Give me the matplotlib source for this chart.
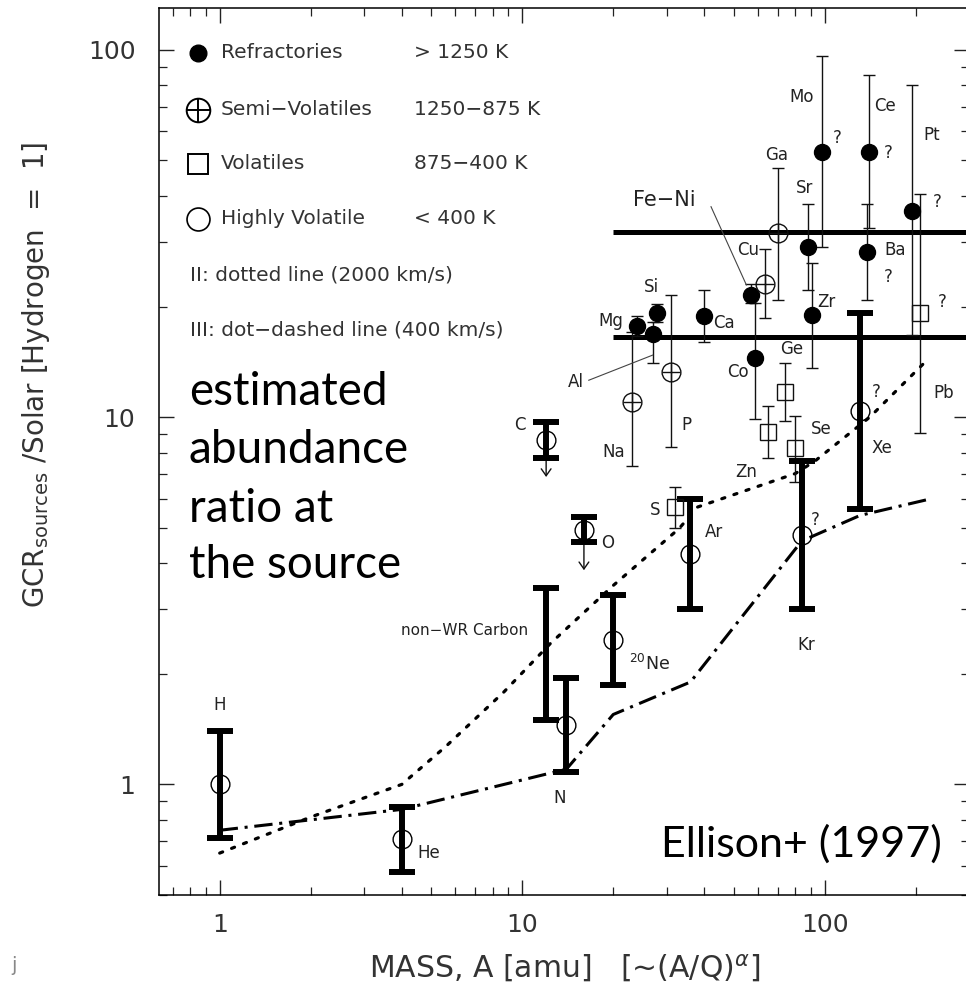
import numpy as np
import matplotlib.pyplot as plt

# ======================
# DATA
# ======================
# GCR source values with thick error bars (open circles = highly volatile)
gcr_names = ["H", "He", "C", "N", "O", "Ne", "Ar", "Kr", "Xe"]
gcr_mass = [1, 4, 12, 14, 16, 20, 36, 84, 131]
gcr_val = [1.0, 0.708, 8.65, 1.45, 4.92, 2.47, 4.25, 4.77, 10.4]
gcr_lo = [0.714, 0.579, 7.73, 1.08, 4.57, 1.86, 3.01, 3.01, 5.62]
gcr_hi = [1.40, 0.867, 9.72, 1.95, 5.35, 3.27, 6.0, 7.6, 19.2]

# non-WR carbon (bar only)
nowr_mass = [12]
nowr_lo = [1.50]
nowr_hi = [3.42]

# upper limits (arrows below C and O)
ul_mass = [12, 16]
ul_from = [7.73, 4.57]
ul_tip = [6.87, 3.83]

# refractories (filled circles)
ref_names = ["Mg", "Al", "Si", "Ca", "Fe-Ni", "Co", "Sr", "Zr", "Mo", "Ba", "Ce", "Pt"]
ref_mass = [24, 27, 28, 40, 57, 59, 88, 91, 98, 138, 140, 195]
ref_val = [17.7, 16.8, 19.2, 18.8, 21.5, 14.45, 29.1, 19.0, 52.8, 28.2, 52.8, 36.5]
ref_lo = [16.6, 14.0, 18.2, 16.0, 20.4, 9.9, 22.2, 13.6, 29.1, 20.8, 32.7, 16.7]
ref_hi = [18.9, 18.2, 20.3, 22.2, 23.1, 20.5, 38.1, 26.3, 96.3, 38.1, 85.5, 80.3]

# semi-volatiles (circle with cross)
semi_names = ["Na", "P", "Cu", "Ga"]
semi_mass = [23, 31, 63.5, 70]
semi_val = [11.0, 13.3, 23.0, 31.7]
semi_lo = [7.35, 8.27, 18.6, 20.8]
semi_hi = [17.0, 21.5, 28.6, 47.6]

# volatiles (open squares)
vol_names = ["S", "Zn", "Ge", "Se", "Pb"]
vol_mass = [32, 65, 74, 80, 207]
vol_val = [5.69, 9.12, 11.7, 8.22, 19.2]
vol_lo = [5.0, 7.72, 9.77, 6.66, 9.03]
vol_hi = [6.46, 10.7, 14.0, 10.1, 40.5]

# horizontal reference levels
hline_y = [32.0, 16.5]
hline_from = 20

# model II (dotted, 2000 km/s)
m2_mass = [1, 2, 4, 5.6, 8.7, 12.4, 20, 33, 38, 80, 93, 141, 220]
m2_val = [0.65, 0.815, 1.0, 1.27, 1.785, 2.42, 3.48, 4.97, 5.69, 7.02, 7.6, 10.0, 14.4]

# model III (dot-dashed, 400 km/s)
m3_mass = [1, 4, 14, 20, 36, 84, 131, 226]
m3_val = [0.75, 0.855, 1.1, 1.55, 1.9, 4.6, 5.4, 6.0]

# element labels: text, x, y
labels = [
    ("H", 1.0, 1.64), ("He", 4.9, 0.65), ("N", 13.3, 0.92), ("C", 9.8, 9.5),
    ("O", 19.1, 4.54), ("Ar", 43.0, 4.87), ("Kr", 86.6, 2.40), ("Xe", 155, 8.25),
    ("?", 147.7, 11.7), ("?", 93.2, 5.24), ("S", 27.5, 5.58), ("Zn", 55.1, 7.1),
    ("Se", 97.6, 9.26), ("Ge", 77.6, 15.3), ("Co", 51.7, 13.3), ("P", 34.8, 9.5),
    ("Na", 20.0, 8.04), ("Al", 15.0, 12.5), ("Mg", 19.7, 18.3), ("Si", 26.85, 22.6),
    ("Ca", 46.6, 18.0), ("Cu", 56.0, 28.5), ("Ga", 69.2, 51.8), ("Sr", 85.9, 42.0),
    ("Zr", 101.4, 20.6), ("Mo", 84.2, 74.6), ("?", 110, 57.4), ("Ce", 158, 70.1),
    ("?", 162.3, 52.3), ("Ba", 170.4, 28.5), ("?", 162.3, 24.1), ("Pt", 226, 58.7),
    ("?", 234.9, 38.6), ("?", 244, 20.6), ("Pb", 247, 11.6),
]

# ======================
# PLOT
# ======================
fig = plt.figure(figsize=(9.66, 9.84), dpi=100)
ax = fig.add_axes([0.1646, 0.0905, 0.8385, 0.9014])
ax.set_xscale("log")
ax.set_yscale("log")
ax.set_xlim(0.63, 300)
ax.set_ylim(0.5, 130)

ink = "#111111"

def yerr(val, lo, hi):
    val = np.array(val)
    return [val - np.array(lo), np.array(hi) - val]

# horizontal levels
ax.hlines(hline_y, hline_from, 1000, colors="k", lw=3.6, zorder=2)

# model curves
ax.plot(m2_mass, m2_val, color="k", lw=2.3, ls=(0, (1.0, 3.0)),
        dash_capstyle="round", zorder=3)
ax.plot(m3_mass, m3_val, color="k", lw=2.2, ls=(0, (6.0, 2.2, 1.0, 2.2)), zorder=3)

# thin bars
thin = dict(fmt="none", ecolor=ink, elinewidth=1.0, capsize=4.5, capthick=1.0, zorder=4)
ax.errorbar(ref_mass, ref_val, yerr=yerr(ref_val, ref_lo, ref_hi), **thin)
ax.errorbar(semi_mass, semi_val, yerr=yerr(semi_val, semi_lo, semi_hi), **thin)
ax.errorbar(vol_mass, vol_val, yerr=yerr(vol_val, vol_lo, vol_hi), **thin)

ax.plot(ref_mass, ref_val, "o", ms=11.5, mfc="k", mec="k", zorder=6)
ax.plot(semi_mass, semi_val, "o", ms=13.5, mfc="none", mec=ink, mew=1.0, zorder=6)
ax.plot(semi_mass, semi_val, "+", ms=13.5, mec=ink, mew=1.0, zorder=6)
ax.plot(vol_mass, vol_val, "s", ms=12, mfc="none", mec=ink, mew=1.0, zorder=6)

# thick bars
thick = dict(fmt="none", ecolor="k", elinewidth=4.3, capsize=9.5, capthick=4.3, zorder=5)
ax.errorbar(gcr_mass, gcr_val, yerr=yerr(gcr_val, gcr_lo, gcr_hi), **thick)
ax.errorbar(nowr_mass, nowr_lo, yerr=[[0], np.array(nowr_hi) - np.array(nowr_lo)], **thick)
ax.plot(gcr_mass, gcr_val, "o", ms=13.5, mfc="none", mec="k", mew=1.0, zorder=6)

for m, y0, y1 in zip(ul_mass, ul_from, ul_tip):
    ax.annotate("", xy=(m, y1), xytext=(m, y0),
                arrowprops=dict(arrowstyle="->,head_length=0.5,head_width=0.35",
                                lw=1.0, color=ink, shrinkA=0, shrinkB=0))

# labels
for t, x, y in labels:
    ax.text(x, y, t, fontsize=12, color="#222222", ha="center", va="center", zorder=7)
ax.text(22.6, 2.045, r"$^{20}$Ne", fontsize=12.5, color="#222222", ha="left", va="baseline")
ax.text(10.5, 2.63, "non−WR Carbon", fontsize=11, color="#222222", ha="right", va="center")
ax.text(29.4, 39.0, "Fe−Ni", fontsize=15, color="#222222", ha="center", va="center")
ax.plot([42.1, 55.1], [37.4, 22.9], color="#444444", lw=0.8, zorder=4)
ax.plot([16.6, 27.0], [12.6, 14.75], color="#444444", lw=0.8, zorder=4)

# legend block (axes fraction)
fs_leg = 14.5
rows = [0.9493, 0.885, 0.8241, 0.7621]
kw = dict(transform=ax.transAxes, clip_on=False, zorder=8)
ax.plot(0.0481, rows[0], "o", ms=12, mfc="k", mec="k", **kw)
ax.plot(0.0481, rows[1], "o", ms=17, mfc="none", mec="k", mew=1.4, **kw)
ax.plot(0.0481, rows[1], "+", ms=17, mec="k", mew=1.4, **kw)
ax.plot(0.0481, rows[2], "s", ms=15, mfc="none", mec="k", mew=1.4, **kw)
ax.plot(0.0481, rows[3], "o", ms=16.5, mfc="none", mec="k", mew=1.2, **kw)
names = ["Refractories", "Semi−Volatiles", "Volatiles", "Highly Volatile"]
temps = ["> 1250 K", "1250−875 K", "875−400 K", "< 400 K"]
for r, n, tt in zip(rows, names, temps):
    ax.text(0.0765, r, n, transform=ax.transAxes, fontsize=fs_leg, color="#333333", va="center")
    ax.text(0.3148, r, tt, transform=ax.transAxes, fontsize=fs_leg, color="#333333", va="center")
ax.text(0.0383, 0.699, "II: dotted line (2000 km/s)", transform=ax.transAxes,
        fontsize=fs_leg, color="#333333", va="center")
ax.text(0.0383, 0.637, "III: dot−dashed line (400 km/s)", transform=ax.transAxes,
        fontsize=fs_leg, color="#333333", va="center")

# annotation text
big = ["estimated", "abundance", "ratio at", "the source"]
for s, yb in zip(big, [0.5524, 0.487, 0.4205, 0.3574]):
    ax.text(0.037, yb, s, transform=ax.transAxes, fontsize=33, family="Lato",
            color="k", va="baseline", ha="left")
ax.text(0.9667, 0.0428, "Ellison+ (1997)", transform=ax.transAxes, fontsize=31,
        family="Lato", color="k", va="baseline", ha="right")

# axes styling
for sp in ax.spines.values():
    sp.set_linewidth(1.1)
ax.tick_params(which="both", direction="in", top=True, right=True, color="#222222")
ax.tick_params(which="major", length=10.8, width=1.0)
ax.tick_params(which="minor", length=5.8, width=0.9)
ax.tick_params(axis="x", which="major", pad=13, labelsize=18, labelcolor="#333333")
ax.tick_params(axis="y", which="major", pad=17, labelsize=18, labelcolor="#333333")
ax.set_xticks([1, 10, 100])
ax.set_xticklabels(["1", "10", "100"])
ax.set_yticks([1, 10, 100])
ax.set_yticklabels(["1", "10", "100"])

fig.text(0.585, 0.0061, r"MASS, A [amu]   [~(A/Q)$^{\alpha}$]", fontsize=21.5,
         color="#333333", ha="center", va="baseline")
fig.text(0.037, 0.619, r"GCR$_{\mathrm{sources}}$ /Solar [Hydrogen  =  1]", fontsize=20,
         color="#333333", ha="center", va="center", rotation=90)
fig.text(0.012, 0.013, "j", fontsize=14, color="#888888")

plt.savefig("out.png", dpi=100)
